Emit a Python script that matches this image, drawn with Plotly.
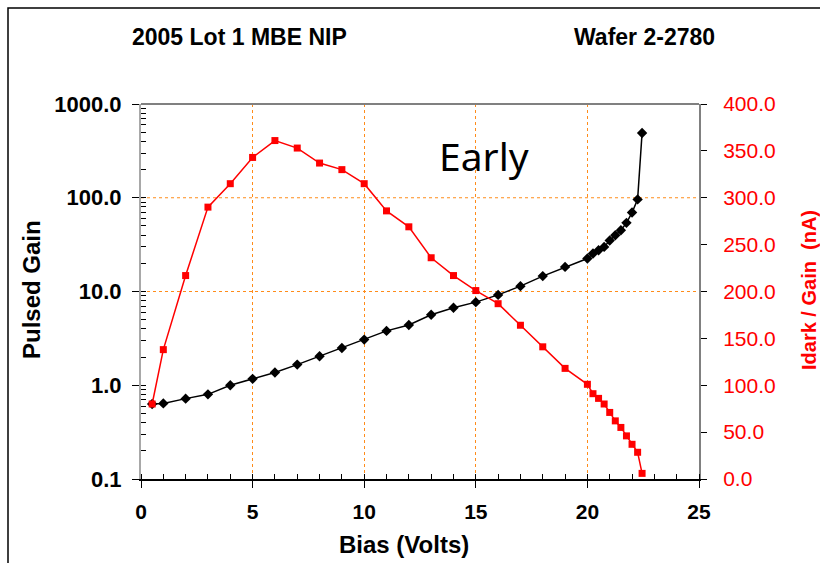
import plotly.graph_objects as go

# ---- data ----
bias = [0.5, 1, 2, 3, 4, 5, 6, 7, 8, 9, 10, 11, 12, 13, 14, 15, 16, 17, 18, 19, 20,
        20.25, 20.5, 20.75, 21, 21.25, 21.5, 21.75, 22, 22.25, 22.45]
pulsed_gain = [0.63, 0.64, 0.72, 0.80, 1.0, 1.17, 1.37, 1.66, 2.04, 2.5, 3.07, 3.8, 4.4,
               5.65, 6.7, 7.7, 9.2, 11.4, 14.6, 18.3, 22.5,
               25.4, 27.5, 29.9, 35, 39.8, 45, 54, 69.5, 96, 490]
idark_gain = [80, 138, 217, 290, 315, 343, 361, 353, 337, 330, 315, 286, 269,
              236, 217, 201, 187, 164, 141, 118, 101,
              91, 86, 80, 71, 62, 55, 46, 37, 28.5, 6]
left_tickvals = [0.1, 1, 10, 100, 1000]
left_ticktext = ["0.1", "1.0", "10.0", "100.0", "1000.0"]

# ---- geometry helpers (pixel -> paper) ----
L, R, T, B = 141, 699, 104, 479
W, H = R - L, B - T
def px(x):
    return (x - L) / W
def py(y):
    return (B - y) / H

ORANGE = "#FF8C1A"
FONT = "Liberation Sans, Arial, sans-serif"

fig = go.Figure()
fig.add_trace(go.Scatter(
    x=bias, y=pulsed_gain, mode="lines+markers", yaxis="y", name="Pulsed Gain",
    line=dict(color="black", width=1.5),
    marker=dict(symbol="diamond", size=8, color="black")))
fig.add_trace(go.Scatter(
    x=bias, y=idark_gain, mode="lines+markers", yaxis="y2", name="Idark / Gain",
    line=dict(color="#FF0000", width=1.5),
    marker=dict(symbol="square", size=7, color="#FF0000")))

fig.update_layout(
    width=820, height=563,
    margin=dict(l=L, r=820 - R, t=T, b=563 - B),
    paper_bgcolor="white", plot_bgcolor="white",
    showlegend=False,
    font=dict(family=FONT, color="black"),
    xaxis=dict(
        range=[0, 25], tickmode="linear", tick0=0, dtick=5,
        showgrid=True, gridcolor=ORANGE, griddash="dot", gridwidth=1,
        zeroline=False,
        showline=True, linecolor="black", linewidth=1.5,
        ticks="outside", ticklen=7, tickcolor="black", tickwidth=1,
        ticklabelstandoff=6,
        minor=dict(dtick=1, ticks="inside", ticklen=5, tickcolor="black", showgrid=False),
        tickfont=dict(family=FONT, size=21, color="black", weight="bold"),
    ),
    yaxis=dict(
        type="log", range=[-1, 3],
        tickvals=left_tickvals, ticktext=left_ticktext,
        showgrid=False, zeroline=False,
        showline=True, linecolor="#A8A8A8", linewidth=2,
        ticks="outside", ticklen=7, tickcolor="black",
        ticklabelstandoff=6,
        minor=dict(dtick="D1", ticks="inside", ticklen=5, tickcolor="black", showgrid=False),
        tickfont=dict(family=FONT, size=22, color="black", weight="bold"),
    ),
    yaxis2=dict(
        overlaying="y", side="right", anchor="x",
        range=[0, 400], tickmode="linear", tick0=0, dtick=50, tickformat=".1f",
        showgrid=False, zeroline=False,
        showline=True, linecolor="#808080", linewidth=2,
        ticks="outside", ticklen=6, tickcolor="black",
        ticklabelstandoff=12,
        tickfont=dict(family=FONT, size=21, color="#FF0000"),
    ),
    yaxis3=dict(
        overlaying="y", side="right", anchor="x",
        range=[0, 400], tickmode="linear", tick0=0, dtick=50,
        showgrid=False, zeroline=False, showline=False,
        ticks="inside", ticklen=6, tickcolor="black", showticklabels=False,
    ),
)

# horizontal dotted grid lines (at 10 and 100 on the gain axis)
for v in [200, 300]:
    fig.add_shape(type="line", xref="paper", yref="y2", x0=0, x1=1, y0=v, y1=v,
                  line=dict(color=ORANGE, width=1, dash="dot"), layer="below")
# top border of plot
fig.add_shape(type="line", xref="paper", yref="paper", x0=0, x1=1, y0=1, y1=1,
              line=dict(color="#808080", width=2))
# outer frame
fig.add_shape(type="rect", xref="paper", yref="paper",
              x0=px(8), x1=px(840), y0=py(590), y1=py(8),
              line=dict(color="black", width=1.5), fillcolor="rgba(0,0,0,0)")

ann = [
    dict(text="2005 Lot 1 MBE NIP", x=px(239), y=py(37), size=23, color="black", bold=True, angle=0),
    dict(text="Wafer 2-2780", x=px(644), y=py(37), size=23, color="black", bold=True, angle=0),
    dict(text="Bias (Volts)", x=px(404), y=py(544), size=24, color="black", bold=True, angle=0),
    dict(text="Pulsed Gain", x=px(31), y=py(290), size=24, color="black", bold=True, angle=-90),
    dict(text="Idark / Gain &nbsp;(nA)", x=px(809), y=py(290), size=20, color="#FF0000", bold=True, angle=-90),
]
for a in ann:
    fig.add_annotation(text=a["text"], xref="paper", yref="paper", x=a["x"], y=a["y"],
                       xanchor="center", yanchor="middle", showarrow=False, textangle=a["angle"],
                       font=dict(family=FONT, size=a["size"], color=a["color"],
                                 weight="bold" if a["bold"] else "normal"))
fig.add_annotation(text="Early", xref="paper", yref="paper", x=px(484), y=py(155),
                   xanchor="center", yanchor="middle", showarrow=False,
                   font=dict(family="Noto Sans, sans-serif", size=39, color="black"))

fig.write_html("out.html")
